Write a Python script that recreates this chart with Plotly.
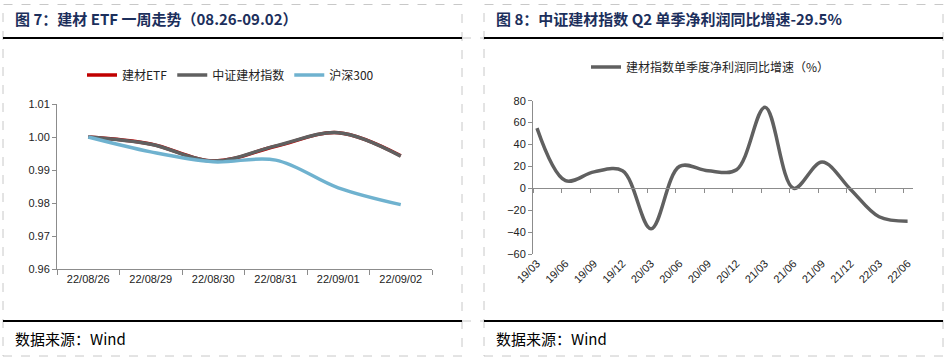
import plotly.graph_objects as go

# ---------------- data ----------------
dates_left = ["22/08/26", "22/08/29", "22/08/30", "22/08/31", "22/09/01", "22/09/02"]
etf_vals = [1.000, 0.9979, 0.9927, 0.9972, 1.0013, 0.9943]
index_vals = [1.000, 0.9978, 0.9927, 0.9973, 1.0013, 0.9942]
hs300_vals = [1.000, 0.9955, 0.9925, 0.9930, 0.9846, 0.9795]

quarters = ["19/03", "19/06", "19/09", "19/12", "20/03", "20/06", "20/09", "20/12",
            "21/03", "21/06", "21/09", "21/12", "22/03", "22/06"]
profit_growth = [55, 7, 15, 16, -37, 20, 16, 17, 74, 0, 24, -1, -26, -30]

left_yticks = [0.96, 0.97, 0.98, 0.99, 1.00, 1.01]
right_yticks = [80, 60, 40, 20, 0, -20, -40, -60]

title_left = "图 7：建材 ETF 一周走势（08.26-09.02）"
title_right = "图 8：中证建材指数 Q2 单季净利润同比增速-29.5%"
source_text = "数据来源：Wind"

# ---------------- styles ----------------
W, H = 949, 359
NAVY = "#1c2f5c"
AX = "#8c8c8c"
TXT = "#222222"
LATIN = "Liberation Sans, Arial, sans-serif"
CJK = "Noto Sans CJK SC, sans-serif"


def px(x):
    return x / W


def py(y):
    return 1 - y / H


fig = go.Figure()

fig.add_trace(go.Scatter(x=dates_left, y=etf_vals, name="建材ETF", mode="lines",
                         line=dict(color="#c00000", width=3.5, shape="spline", smoothing=1),
                         xaxis="x", yaxis="y", legend="legend"))
fig.add_trace(go.Scatter(x=dates_left, y=index_vals, name="中证建材指数", mode="lines",
                         line=dict(color="#606060", width=3.5, shape="spline", smoothing=1),
                         xaxis="x", yaxis="y", legend="legend"))
fig.add_trace(go.Scatter(x=dates_left, y=hs300_vals, name="沪深300", mode="lines",
                         line=dict(color="#6fb2cf", width=3.5, shape="spline", smoothing=1),
                         xaxis="x", yaxis="y", legend="legend"))

fig.add_trace(go.Scatter(x=quarters, y=profit_growth, name="建材指数单季度净利润同比增速（%）",
                         mode="lines",
                         line=dict(color="#606060", width=3.5, shape="spline", smoothing=1),
                         xaxis="x2", yaxis="y2", legend="legend2"))
# invisible helper trace for the zero-line axis
fig.add_trace(go.Scatter(x=[0], y=[0], mode="markers", marker=dict(opacity=0),
                         showlegend=False, hoverinfo="skip", xaxis="x3", yaxis="y2"))

left_dom_x = [px(57), px(432)]
left_dom_y = [py(269), py(104)]
right_dom_x = [px(533), px(913)]
right_dom_y = [py(254), py(100.7)]
ymin_r, ymax_r = -60, 80
zero_pos = right_dom_y[0] + (0 - ymin_r) / (ymax_r - ymin_r) * (right_dom_y[1] - right_dom_y[0])

tickfont = dict(family=LATIN, size=11, color=TXT)

fig.update_layout(
    template="none",
    width=W, height=H, autosize=False,
    margin=dict(l=0, r=0, t=0, b=0, pad=0),
    paper_bgcolor="white", plot_bgcolor="white",
    showlegend=True,
    xaxis=dict(domain=left_dom_x, anchor="y", type="category", range=[-0.5, 5.5],
               showline=True, linecolor=AX, linewidth=1, ticks="outside", ticklen=5,
               tickcolor=AX, tickson="boundaries", showgrid=False, zeroline=False,
               tickfont=tickfont, automargin=False),
    yaxis=dict(domain=left_dom_y, anchor="x", range=[0.96, 1.01], tickvals=left_yticks,
               tickformat=".2f", showline=True, linecolor=AX, linewidth=1, ticks="outside",
               ticklen=4, tickcolor=AX, showgrid=False, zeroline=False, tickfont=tickfont,
               automargin=False),
    xaxis2=dict(domain=right_dom_x, anchor="y2", type="category", range=[-0.14, 13.19],
                showline=False, ticks="", showgrid=False, zeroline=False,
                tickangle=-45, tickfont=tickfont, automargin=False),
    xaxis3=dict(overlaying="x2", anchor="free", position=zero_pos, range=[0, 13.33],
                dtick=1, tick0=0, showline=True, linecolor=AX, linewidth=1,
                ticks="outside", ticklen=4, tickcolor=AX, showticklabels=False,
                showgrid=False, zeroline=False, automargin=False),
    yaxis2=dict(domain=right_dom_y, anchor="x2", range=[ymin_r, ymax_r], tickvals=right_yticks,
                showline=True, linecolor=AX, linewidth=1, ticks="outside", ticklen=4,
                tickcolor=AX, showgrid=False, zeroline=False, tickfont=tickfont,
                automargin=False),
    legend=dict(orientation="h", x=px(82), y=py(75), xanchor="left", yanchor="middle",
                font=dict(family=CJK, size=12, color=TXT), itemwidth=30,
                bgcolor="rgba(0,0,0,0)", itemclick=False),
    legend2=dict(orientation="h", x=px(586), y=py(67), xanchor="left", yanchor="middle",
                 font=dict(family=CJK, size=12, color=TXT), itemwidth=30,
                 bgcolor="rgba(0,0,0,0)", itemclick=False),
)

# panel frames (dashed) and rules
shapes = []
for x0, x1 in [(3, 462), (484, 943)]:
    shapes.append(dict(type="rect", xref="paper", yref="paper", x0=px(x0), x1=px(x1),
                       y0=py(356), y1=py(4.5), line=dict(color="#c8c8c8", width=1, dash="dash")))
    for yy in (38, 321):
        shapes.append(dict(type="line", xref="paper", yref="paper", x0=px(x0), x1=px(x1),
                           y0=py(yy), y1=py(yy), line=dict(color="black", width=2)))
for yy in (38, 321):
    shapes.append(dict(type="line", xref="paper", yref="paper", x0=px(462), x1=px(484),
                       y0=py(yy), y1=py(yy), line=dict(color="#c8c8c8", width=1, dash="dash")))
fig.update_layout(shapes=shapes)

annotations = []
for x0, t in [(13, title_left), (494, title_right)]:
    annotations.append(dict(xref="paper", yref="paper", x=px(x0), y=py(19), xanchor="left",
                            yanchor="middle", showarrow=False, text="<b>" + t + "</b>",
                            font=dict(family=CJK, size=15, color=NAVY)))
for x0 in (13, 494):
    annotations.append(dict(xref="paper", yref="paper", x=px(x0), y=py(338), xanchor="left",
                            yanchor="middle", showarrow=False, text=source_text,
                            font=dict(family=CJK, size=15, color="black")))
fig.update_layout(annotations=annotations)

fig.write_html("out.html",
               config={"displayModeBar": False, "staticPlot": True},
               post_script="document.body.style.margin='0';document.body.style.padding='0';"
                           "document.documentElement.style.overflow='hidden';")
